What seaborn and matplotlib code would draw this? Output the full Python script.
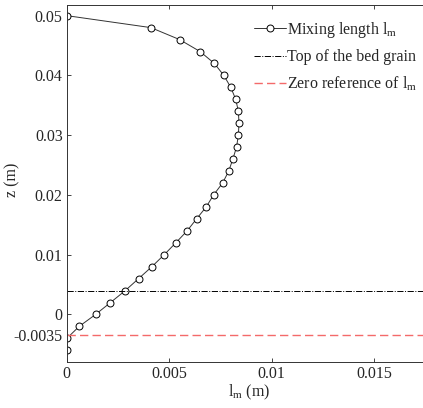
import numpy as np
import pandas as pd
import matplotlib
matplotlib.use('Agg')
import matplotlib.pyplot as plt
import seaborn as sns

z = [0.05, 0.048, 0.046, 0.044, 0.042, 0.04, 0.038, 0.036, 0.034, 0.032,
     0.03, 0.028, 0.026, 0.024, 0.022, 0.02, 0.018, 0.016, 0.014, 0.012,
     0.01, 0.008, 0.006, 0.004, 0.002, 0.0, -0.002, -0.004, -0.006]
lm = [0.0, 0.0041, 0.0055, 0.0065, 0.0072, 0.00766, 0.0080, 0.00824, 0.00837, 0.0084,
      0.00837, 0.00828, 0.0081, 0.0079, 0.0076, 0.00716, 0.0068, 0.00633, 0.00587, 0.00532,
      0.00475, 0.00415, 0.0035, 0.00285, 0.00213, 0.0014, 0.0006, 0.0, 0.0]
bed_top = 0.004
zero_ref = -0.0035

yticks = [-0.0035, 0, 0.01, 0.02, 0.03, 0.04, 0.05]
yticklabels = ['-0.0035', '0', '0.01', '0.02', '0.03', '0.04', '0.05']
xticks = [0, 0.005, 0.01, 0.015]
xticklabels = ['0', '0.005', '0.01', '0.015']

df = pd.DataFrame({'lm': lm, 'z': z})

sns.set_style('ticks')
plt.rcParams['font.family'] = ['Liberation Serif', 'DejaVu Serif']
plt.rcParams['mathtext.default'] = 'regular'
plt.rcParams['xtick.direction'] = 'in'
plt.rcParams['ytick.direction'] = 'in'

fig = plt.figure(figsize=(4.23, 4.08), dpi=100)
ax = fig.add_axes([0.158, 0.112, 0.86, 0.876])

sns.lineplot(data=df, x='lm', y='z', sort=False, estimator=None, ax=ax,
             color='#333333', linewidth=0.7, marker='o', markersize=5,
             markerfacecolor='white', markeredgecolor='black', markeredgewidth=0.7,
             label='Mixing length l$_{m}$')
ax.axhline(bed_top, color='black', linestyle='-.', linewidth=0.7, label='Top of the bed grain')
ax.axhline(zero_ref, color='#f46a6a', linestyle='--', linewidth=1.0, dashes=(6, 3),
           label='Zero reference of l$_{m}$')

ax.set_xlim(0, 0.01775)
ax.set_ylim(-0.008, 0.0518)
ax.set_xticks(xticks)
ax.set_xticklabels(xticklabels)
ax.set_yticks(yticks)
ax.set_yticklabels(yticklabels)
ax.tick_params(labelsize=11.5, length=3, width=0.6, top=True, right=True, pad=3)
for s in ax.spines.values():
    s.set_linewidth(0.7)
    s.set_color('#333333')

ax.set_xlabel('l$_{m}$ (m)', fontsize=11.5, labelpad=0)
ax.set_ylabel('z (m)', fontsize=11.5)
ax.yaxis.set_label_coords(-0.127, 0.51)

ax.legend(loc='upper right', frameon=False, fontsize=11.5, handlelength=2.0,
          handletextpad=0.1, labelspacing=0.6, borderaxespad=0.2,
          bbox_to_anchor=(0.99, 0.985))

fig.savefig('out.png', dpi=100)
